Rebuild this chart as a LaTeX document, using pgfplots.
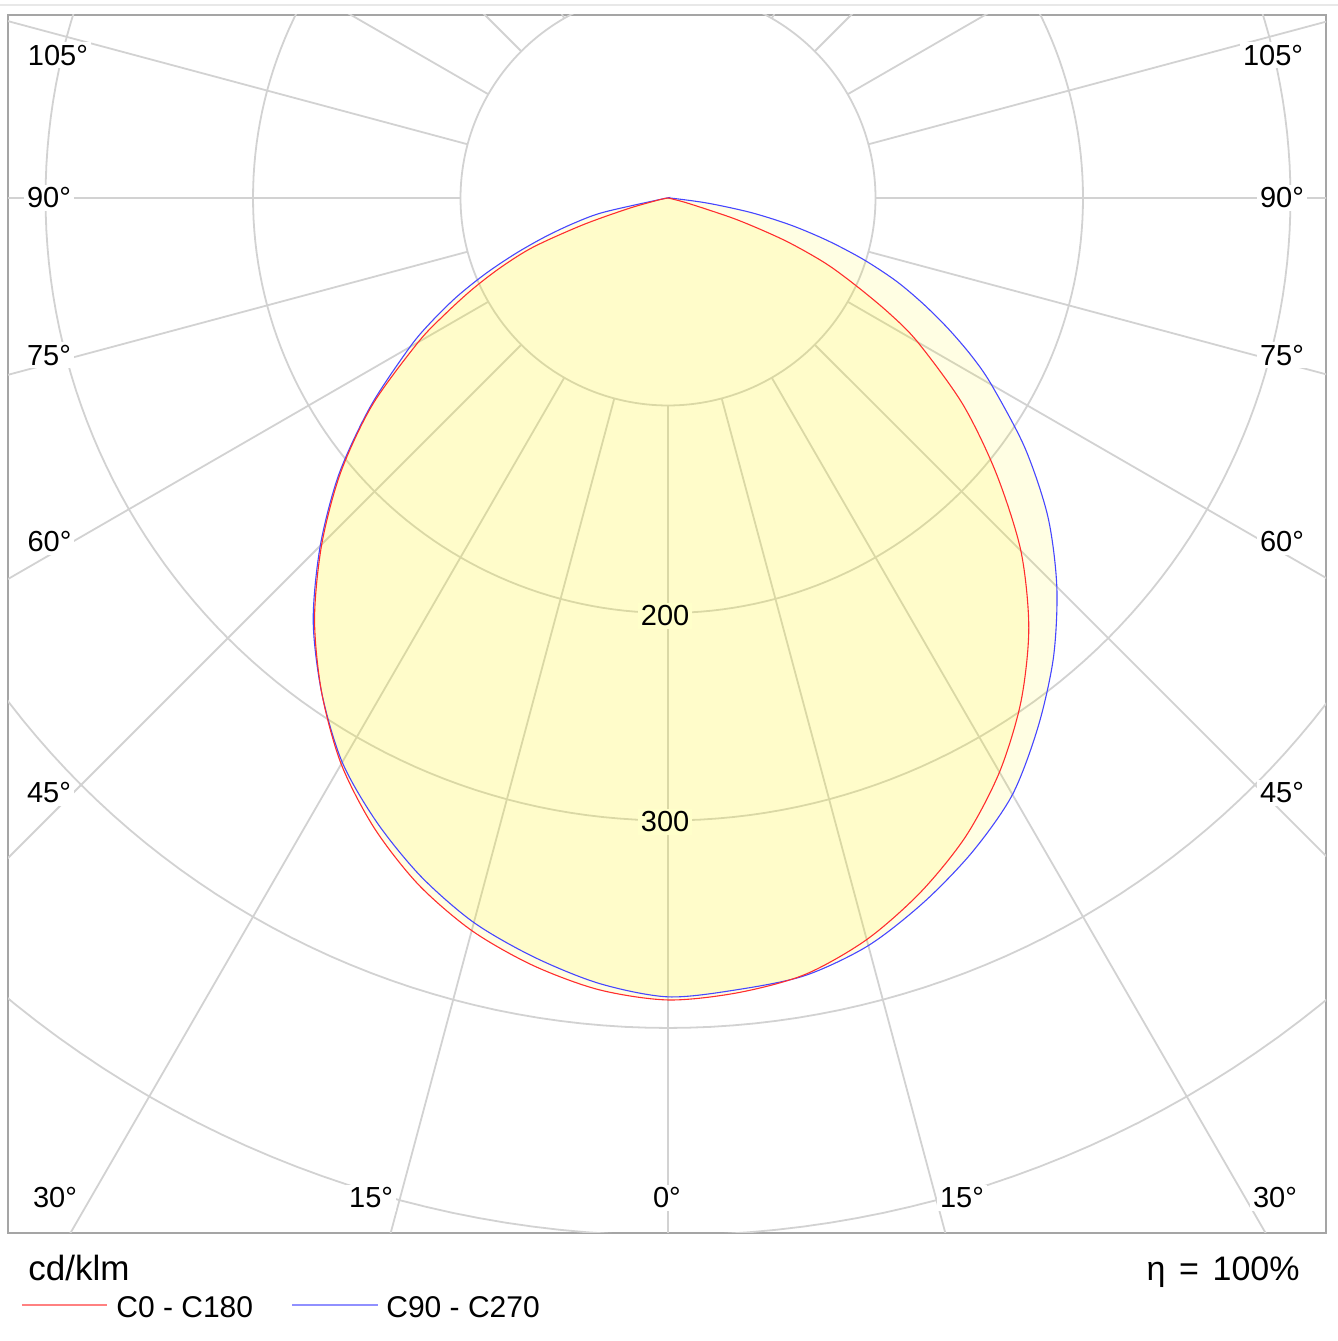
\documentclass[border=0pt]{standalone}
\usepackage{fontspec}
\setmainfont{Liberation Sans}
\usepackage{pgfplots}
\pgfplotsset{compat=1.18}
\usepackage{pgfplotstable}

\definecolor{gridc}{RGB}{210,210,210}
\definecolor{boxc}{RGB}{165,165,165}
\definecolor{cred}{RGB}{255,45,45}
\definecolor{cblue}{RGB}{70,70,255}
\definecolor{lblyel}{RGB}{255,255,202}
\tikzset{lab/.style={fill=white, inner sep=1.5pt, font=\fontsize{14.5}{17}\selectfont}}

% C0 - C180 : negative angle = C180 side (left), positive = C0 side (right)
\pgfplotstableread{
a r
-90 0
-80 2
-77.5 6
-75 20
-72.5 43
-70 69
-67.5 87
-65 104
-62.5 121
-60 139
-55 174
-50 206
-45 236
-40 265
-35 291
-30 315
-25 335
-20 352
-15 365.5
-10 375.5
-5 383
0 386.5
5 384.5
10 380
15 370
20 356
25 339.5
30 319.5
35 296.5
40 270.5
45 240.5
50 206.5
55 173.5
60 139
62.5 120
65 100
67.5 82
70 60
72.5 35
75 11
77.5 2
90 0
}\redtab

% C90 - C270 : negative angle = C270 side (left), positive = C90 side (right)
\pgfplotstableread{
a r
-90 0
-80 3
-77.5 32
-75 47
-72.5 62
-70 78
-67.5 95
-65 112
-62.5 128
-60 143.6
-55 175
-50 207
-45 237
-40 266
-35 291
-30 314
-25 332
-20 348
-15 361.5
-10 371.5
-5 380
0 385
5 383
10 380.5
15 373
20 361
25 347.5
30 332
35 311
40 289
45 265
50 239
55 210
60 180
62.5 165
65 149
67.5 133
70 117
72.5 99
75 80
77.5 61
80 41
82.5 20
85 4
90 0
}\bluetab

\begin{document}
\begin{tikzpicture}
\useasboundingbox (-4pt,-54pt) rectangle (665pt,616.5pt);
\draw[gray!18, line width=1pt] (-4pt,614pt) -- (665pt,614pt);
\begin{axis}[
  at={(0pt,0pt)}, anchor=south west,
  scale only axis, width=659pt, height=609pt,
  xmin=-318.07, xmax=317.11, ymin=-498.8, ymax=88.19,
  xtick=\empty, ytick=\empty,
  axis line style={boxc, line width=1pt},
  clip=true,
]
% circles
\pgfplotsinvokeforeach{100,200,300,400,500,600}{
  \addplot[gridc, line width=0.9pt, domain=0:360, samples=241, variable=\t] ({#1*cos(t)},{#1*sin(t)});
}
% radial lines
\pgfplotsinvokeforeach{0,15,...,345}{
  \draw[gridc, line width=0.9pt] (axis cs:{100*sin(#1)},{-100*cos(#1)}) -- (axis cs:{1100*sin(#1)},{-1100*cos(#1)});
}
% fills
\addplot[draw=none, fill=yellow, fill opacity=0.11, smooth]
  table[x expr={\thisrow{r}*sin(\thisrow{a})}, y expr={-\thisrow{r}*cos(\thisrow{a})}] {\bluetab};
\addplot[draw=none, fill=yellow, fill opacity=0.11, smooth]
  table[x expr={\thisrow{r}*sin(\thisrow{a})}, y expr={-\thisrow{r}*cos(\thisrow{a})}] {\redtab};
% curves
\addplot[cblue, line width=0.55pt, smooth]
  table[x expr={\thisrow{r}*sin(\thisrow{a})}, y expr={-\thisrow{r}*cos(\thisrow{a})}] {\bluetab};
\addplot[cred, line width=0.55pt, smooth]
  table[x expr={\thisrow{r}*sin(\thisrow{a})}, y expr={-\thisrow{r}*cos(\thisrow{a})}] {\redtab};
% intensity labels
\node[lab, fill=lblyel] at (axis cs:-1.4,-201.4) {200};
\node[lab, fill=lblyel] at (axis cs:-1.4,-300.7) {300};
% angle labels left
\node[lab] at (axis cs:-294.0,68.9) {105°};
\node[lab] at (axis cs:-298.3,0) {90°};
\node[lab] at (axis cs:-298.3,-75.7) {75°};
\node[lab] at (axis cs:-298.1,-165.6) {60°};
\node[lab] at (axis cs:-298.3,-286.7) {45°};
% angle labels right
\node[lab] at (axis cs:291.6,68.9) {105°};
\node[lab] at (axis cs:295.9,0) {90°};
\node[lab] at (axis cs:295.9,-75.7) {75°};
\node[lab] at (axis cs:295.9,-165.6) {60°};
\node[lab] at (axis cs:295.9,-286.7) {45°};
% angle labels bottom
\node[lab] at (axis cs:-295.4,-481.9) {30°};
\node[lab] at (axis cs:-143.1,-481.9) {15°};
\node[lab] at (axis cs:-0.5,-481.9) {0°};
\node[lab] at (axis cs:141.7,-481.9) {15°};
\node[lab] at (axis cs:292.5,-481.9) {30°};
\end{axis}
% texts below the diagram
\node[anchor=base west, inner sep=0pt, font=\fontsize{17.5}{20}\selectfont] at (10pt,-23.5pt) {cd/klm};
\node[anchor=base east, inner sep=0pt, font=\fontsize{17}{20}\selectfont] at (646pt,-23.5pt) {η\hspace{0.4em}=\hspace{0.4em}100\%};
\draw[cred!60, line width=0.7pt] (7pt,-36pt) -- (49.5pt,-36pt);
\node[anchor=base west, inner sep=0pt, font=\fontsize{15}{18}\selectfont] at (54pt,-42pt) {C0 - C180};
\draw[cblue!60, line width=0.7pt] (142pt,-36pt) -- (185pt,-36pt);
\node[anchor=base west, inner sep=0pt, font=\fontsize{15}{18}\selectfont] at (189pt,-42pt) {C90 - C270};
\end{tikzpicture}
\end{document}
